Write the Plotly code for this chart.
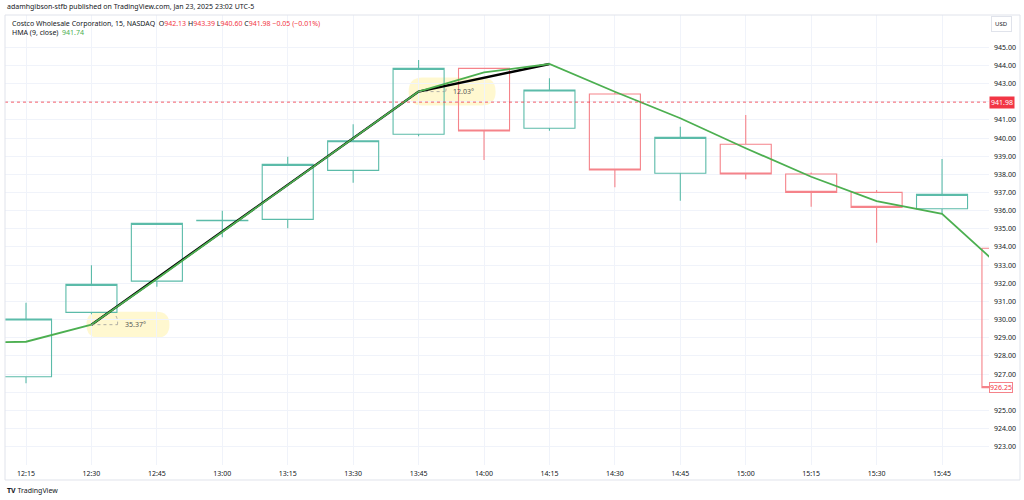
import plotly.graph_objects as go

# ---- data ----
candle_times = ["2025-01-23 12:15", "2025-01-23 12:30", "2025-01-23 12:45", "2025-01-23 13:00",
                "2025-01-23 13:15", "2025-01-23 13:30", "2025-01-23 13:45", "2025-01-23 14:00",
                "2025-01-23 14:15", "2025-01-23 14:30", "2025-01-23 14:45", "2025-01-23 15:00",
                "2025-01-23 15:15", "2025-01-23 15:30", "2025-01-23 15:45", "2025-01-23 16:00"]
opens = [926.85, 930.40, 932.12, 935.45, 935.52, 938.22, 940.21, 943.84,
         940.54, 942.43, 938.06, 939.66, 938.02, 937.01, 936.11, 933.93]
highs = [930.93, 933.00, 935.30, 936.00, 938.97, 940.76, 944.30, 943.84,
         943.29, 942.52, 940.63, 941.27, 938.10, 937.14, 938.85, 933.93]
lows = [926.49, 930.30, 931.81, 934.53, 935.03, 937.54, 940.10, 938.79,
        940.40, 937.29, 936.55, 937.73, 936.22, 934.23, 935.82, 926.25]
closes = [930.03, 931.94, 935.30, 935.47, 938.55, 939.85, 943.84, 940.39,
          942.65, 938.24, 940.04, 938.02, 937.01, 936.18, 936.90, 926.25]

hma_times = ["2025-01-23 12:00"] + candle_times
hma_values = [928.72, 928.78, 929.72, 932.24, 934.83, 937.40, 939.95, 942.56, 943.62,
              944.08, 942.55, 941.09, 939.44, 937.87, 936.53, 935.82, 932.56]

trend_times = ["2025-01-23 12:30", "2025-01-23 13:45", "2025-01-23 14:15"]
trend_values = [929.72, 942.56, 944.08]
angle_labels = ["35.37°", "12.03°"]

price_ticks = list(range(923, 946))
last_price = 941.98
close_label = 926.25

UP = "#5bbba9"
DN = "#f5838a"
HMA_C = "#4caf50"
TXT = "#131722"
FONT = "Noto Sans"

fig = go.Figure()

fig.add_trace(go.Candlestick(
    x=candle_times, open=opens, high=highs, low=lows, close=closes,
    increasing=dict(line=dict(color=UP, width=1.1), fillcolor="rgba(0,0,0,0)"),
    decreasing=dict(line=dict(color=DN, width=1.1), fillcolor="rgba(0,0,0,0)"),
    whiskerwidth=0, showlegend=False, hoverinfo="skip"))

fig.add_trace(go.Scatter(x=trend_times, y=trend_values, mode="lines",
                         line=dict(color="#000000", width=2.4), showlegend=False, hoverinfo="skip"))
fig.add_trace(go.Scatter(x=hma_times, y=hma_values, mode="lines",
                         line=dict(color=HMA_C, width=1.8), showlegend=False, hoverinfo="skip"))

shapes = []
# yellow highlight pills and angle marks
pill_specs = [(-5, 78, 13), (-10, 77, 14)]
arc_specs = ["M 26,0 Q 27,6 23,11", "M 27,0 Q 28,3 27,6"]
for (t, v), lab, (x0, x1, r), arc in zip(zip(trend_times[:2], trend_values[:2]), angle_labels,
                                         pill_specs, arc_specs):
    path = (f"M {x0 + r},{r} L {x1 - r},{r} Q {x1},{r} {x1},0 Q {x1},{-r} {x1 - r},{-r} "
            f"L {x0 + r},{-r} Q {x0},{-r} {x0},0 Q {x0},{r} {x0 + r},{r} Z")
    shapes.append(dict(type="path", xref="x", yref="y", xsizemode="pixel", ysizemode="pixel",
                       xanchor=t, yanchor=v, path=path, fillcolor="rgba(255,236,120,0.35)",
                       line=dict(width=0), layer="below"))
    shapes.append(dict(type="line", xref="x", yref="y", xsizemode="pixel", xanchor=t,
                       x0=0, x1=26, y0=v, y1=v, line=dict(color="#9a9a9a", width=0.8, dash="dot")))
    shapes.append(dict(type="path", xref="x", yref="y", xsizemode="pixel", ysizemode="pixel",
                       xanchor=t, yanchor=v, path=arc,
                       line=dict(color="#9a9a9a", width=0.8, dash="dot")))
    fig.add_annotation(x=t, y=v, xref="x", yref="y", text=lab, showarrow=False,
                       xanchor="left", yanchor="middle", xshift=32,
                       font=dict(family=FONT, size=7, color="#555555"))

# last price dotted line
shapes.append(dict(type="line", xref="paper", yref="y", x0=0, x1=1, y0=last_price, y1=last_price,
                   line=dict(color="#f23645", width=0.8, dash="dot")))
# frame
shapes.append(dict(type="rect", xref="paper", yref="paper", x0=0, x1=1.0315, y0=-0.0333, y1=1,
                   line=dict(color="#e0e3eb", width=1), fillcolor="rgba(0,0,0,0)"))

fig.update_layout(shapes=shapes)

# header texts
fig.add_annotation(xref="paper", yref="paper", x=0, y=1.0178, xanchor="left", yanchor="middle",
                   showarrow=False, text="adamhgibson-stfb published on TradingView.com, Jan 23, 2025 23:02 UTC-5",
                   font=dict(family=FONT, size=7, color=TXT))
red = "#f23645"
fig.add_annotation(xref="paper", yref="paper", x=0.0051, y=0.9822, xanchor="left", yanchor="middle",
                   showarrow=False,
                   text=("Costco Wholesale Corporation, 15, NASDAQ  "
                         f"O<span style='color:{red}'>942.13</span> H<span style='color:{red}'>943.39</span> "
                         f"L<span style='color:{red}'>940.60</span> C<span style='color:{red}'>941.98</span> "
                         f"<span style='color:{red}'>−0.05 (−0.01%)</span>"),
                   font=dict(family=FONT, size=7, color=TXT))
fig.add_annotation(xref="paper", yref="paper", x=0.0051, y=0.9622, xanchor="left", yanchor="middle",
                   showarrow=False, text=f"HMA (9, close)  <span style='color:{HMA_C}'>941.74</span>",
                   font=dict(family=FONT, size=7, color=TXT))
fig.add_annotation(xref="paper", yref="paper", x=1.0132, y=0.9789, xanchor="center", yanchor="middle",
                   showarrow=False, text="USD", bordercolor="#e0e3eb", borderwidth=1, borderpad=3,
                   font=dict(family=FONT, size=6, color=TXT))
# price labels
fig.add_annotation(xref="paper", yref="y", x=1.0, y=last_price, xanchor="left", yanchor="middle",
                   showarrow=False, text=f"{last_price:.2f}", bgcolor="#f23645", borderpad=1,
                   font=dict(family=FONT, size=7, color="#ffffff"))
fig.add_annotation(xref="paper", yref="y", x=1.0, y=close_label, xanchor="left", yanchor="middle",
                   showarrow=False, text=f"{close_label:.2f}", bgcolor="#ffffff", bordercolor=DN,
                   borderwidth=1, borderpad=0, font=dict(family=FONT, size=7, color="#f23645"))
# logo
fig.add_annotation(xref="paper", yref="paper", x=0, y=-0.0556, xanchor="left", yanchor="middle",
                   showarrow=False, text="<b>TV</b> TradingView",
                   font=dict(family=FONT, size=7, color=TXT))

hidden = {942, 926}
fig.update_layout(
    width=1024, height=500,
    margin=dict(l=5, r=35, t=15, b=35),
    paper_bgcolor="#ffffff", plot_bgcolor="#ffffff",
    boxgap=0.22, boxgroupgap=0,
    xaxis=dict(type="date", range=["2025-01-23 12:10:11", "2025-01-23 15:55:46"],
               rangeslider=dict(visible=False), tick0="2025-01-23 12:15", dtick=900000,
               tickformat="%H:%M", showgrid=True, gridcolor="#f0f3fa", gridwidth=1,
               zeroline=False, showline=False, ticks="", ticklabelstandoff=3,
               tickfont=dict(family=FONT, size=7, color=TXT)),
    yaxis=dict(side="right", range=[921.99, 946.78], tickvals=price_ticks,
               ticktext=["" if v in hidden else f"{v:.2f}" for v in price_ticks],
               showgrid=True, gridcolor="#f0f3fa",
               gridwidth=1, zeroline=False, showline=False, ticks="", ticklabelstandoff=4,
               tickfont=dict(family=FONT, size=7, color=TXT)),
    hovermode=False,
)

fig.write_html("out.html", post_script="document.body.style.margin='0';",
               config={"displayModeBar": False})
